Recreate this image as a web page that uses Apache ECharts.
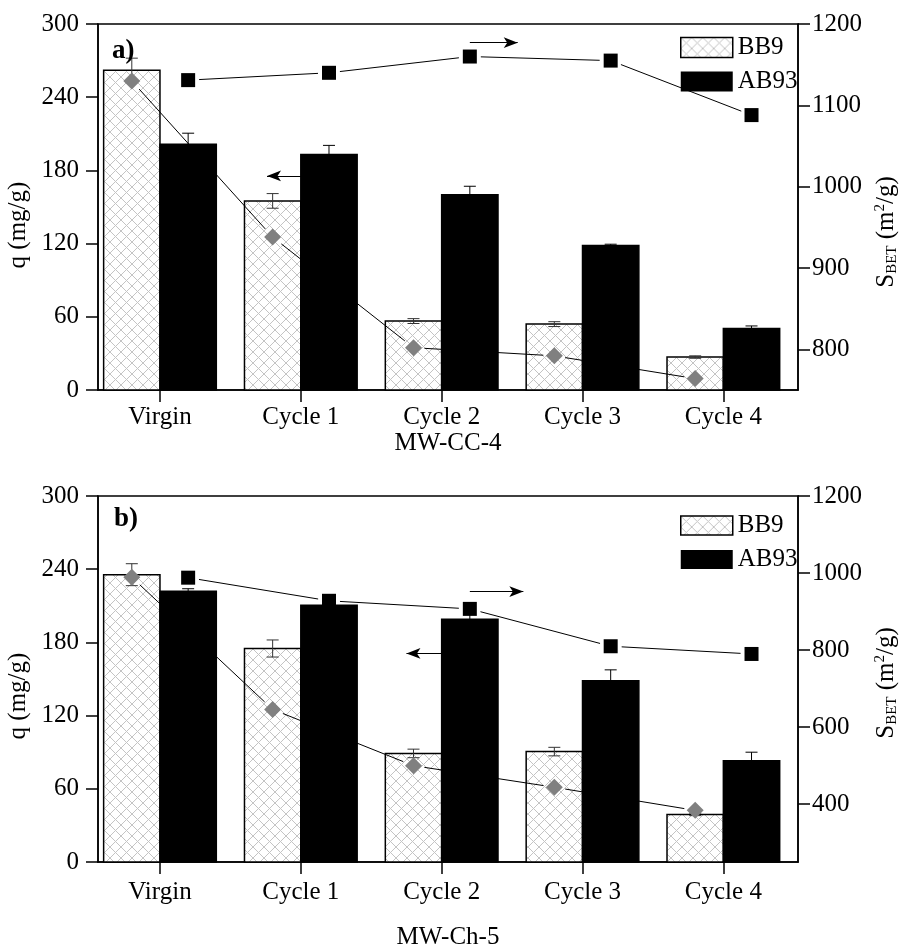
<!DOCTYPE html>
<html>
<head>
<meta charset="utf-8">
<script src="https://cdn.jsdelivr.net/npm/echarts@6/dist/echarts.min.js"></script>
<style>
  html, body { margin: 0; padding: 0; background: #fff; }
  #chart { width: 905px; height: 951px; }
</style>
</head>
<body>
<div id="chart"></div>
<script>
// categories
var cats = ['Virgin', 'Cycle 1', 'Cycle 2', 'Cycle 3', 'Cycle 4'];

// a) MW-CC-4
var qBB9A = [262, 155, 56.5, 54, 27];
var errBB9A = [10, 6, 2, 2, 1];
var qAB93A = [201.5, 193, 160, 118.5, 50.5];
var errAB93A = [9, 7.5, 7, 1, 2];
var sBB9A = [1130, 938, 802, 792, 764];
var sAB93A = [1131, 1140, 1160, 1155, 1088];

// b) MW-Ch-5
var qBB9B = [235.5, 175, 89, 90.5, 39];
var errBB9B = [9, 7, 3.5, 3.5, 1];
var qAB93B = [222, 210.5, 199, 148.5, 83];
var errAB93B = [2, 3, 4, 9, 7];
var sBB9B = [989, 646, 500, 444, 384];
var sAB93B = [988, 928, 907, 810, 790];

// tick labels
var qTicks = [0, 60, 120, 180, 240, 300];
var sTicksA = [800, 900, 1000, 1100, 1200];
var sTicksB = [400, 600, 800, 1000, 1200];

// arrows [x1, y1, x2, y2] in axis units
var arrowLeftA = [1.0, 175.5, 0.76, 175.5];
var arrowRightA = [2.2, 1177, 2.54, 1177];
var arrowLeftB = [2.0, 171, 1.75, 171];
var arrowRightB = [2.2, 952, 2.58, 952];

var FONT = 'Liberation Serif';

/* cross hatch pattern */
var hatch = document.createElement('canvas');
hatch.width = 11; hatch.height = 11;
var hc = hatch.getContext('2d');
hc.fillStyle = '#fff';
hc.fillRect(0, 0, 11, 11);
hc.strokeStyle = '#c4c4c4';
hc.lineWidth = 1;
hc.beginPath();
hc.moveTo(0, 0); hc.lineTo(11, 11);
hc.moveTo(11, 0); hc.lineTo(0, 11);
hc.stroke();
var hatchFill = { image: hatch, repeat: 'repeat' };

var barData = function(vals, errs){
    return vals.map(function(v, i){ return [i, v, errs[i]]; });
};
var pointData = function(vals, off){
    return vals.map(function(v, i){ return [i + off, v]; });
};
var segData = function(vals, off){
    var out = [];
    for (var i = 0; i < vals.length - 1; i++) {
        out.push([i + off, vals[i], i + 1 + off, vals[i + 1]]);
    }
    return out;
};

var barRender = function(side, fill, errColor){
    return function(params, api){
        var x = api.value(0), v = api.value(1), e = api.value(2);
        var top = api.coord([x, v]);
        var base = api.coord([x, 0]);
        var w = api.size([1, 0])[0] * 0.4;
        var cx = top[0] + side * w / 2;
        var x0 = side < 0 ? top[0] - w : top[0];
        var hi = api.coord([x, v + e]);
        var lo = api.coord([x, v - e]);
        var cap = 6;
        var es = { stroke: errColor, lineWidth: 1 };
        return {
            type: 'group',
            children: [
                { type: 'rect', shape: { x: x0, y: top[1], width: w, height: base[1] - top[1] },
                  style: { fill: fill, stroke: '#000', lineWidth: 1.5 } },
                { type: 'line', shape: { x1: cx, y1: hi[1], x2: cx, y2: lo[1] }, style: es },
                { type: 'line', shape: { x1: cx - cap, y1: hi[1], x2: cx + cap, y2: hi[1] }, style: es },
                { type: 'line', shape: { x1: cx - cap, y1: lo[1], x2: cx + cap, y2: lo[1] }, style: es }
            ]
        };
    };
};

var segRender = function(params, api){
    var p1 = api.coord([api.value(0), api.value(1)]);
    var p2 = api.coord([api.value(2), api.value(3)]);
    var dx = p2[0] - p1[0], dy = p2[1] - p1[1];
    var d = Math.sqrt(dx * dx + dy * dy), gap = 11;
    if (d <= 2 * gap) return null;
    var ux = dx / d, uy = dy / d;
    return {
        type: 'line',
        shape: { x1: p1[0] + ux * gap, y1: p1[1] + uy * gap, x2: p2[0] - ux * gap, y2: p2[1] - uy * gap },
        style: { stroke: '#000', lineWidth: 1 }
    };
};

var arrowLine = function(a){
    return {
        silent: true,
        symbol: ['none', 'arrow'],
        symbolSize: [8, 14],
        label: { show: false },
        lineStyle: { color: '#000', width: 1.2, type: 'solid' },
        emphasis: { disabled: true },
        data: [[{ coord: [a[0], a[1]] }, { coord: [a[2], a[3]] }]]
    };
};

var labelStyle = { color: '#000', fontFamily: FONT, fontSize: 25 };
var lineStyle = { color: '#000', width: 1.5 };
var plain = function(v){ return String(v); };

var xAxis = function(idx, name, margin, gap){
    return {
        type: 'value', gridIndex: idx, min: -0.44, max: 4.53,
        name: name, nameLocation: 'middle', nameGap: gap,
        nameTextStyle: labelStyle,
        splitLine: { show: false },
        axisLine: { onZero: false, lineStyle: lineStyle },
        axisTick: { show: true, inside: false, length: 12, lineStyle: lineStyle, customValues: [0, 1, 2, 3, 4] },
        axisLabel: Object.assign({ margin: margin, customValues: [0, 1, 2, 3, 4],
            formatter: function(v){ return cats[Math.round(v)]; } }, labelStyle)
    };
};

var qAxis = function(idx, pad){
    return {
        type: 'value', gridIndex: idx, position: 'left', min: 0, max: 300, interval: 60,
        name: 'q (mg/g)', nameLocation: 'middle', nameRotate: 90, nameGap: 56,
        nameTextStyle: Object.assign({ padding: [0, pad, 0, 0] }, labelStyle),
        splitLine: { show: false },
        axisLine: { show: true, onZero: false, lineStyle: lineStyle },
        axisTick: { show: true, inside: false, length: 12, lineStyle: lineStyle },
        axisLabel: Object.assign({ margin: 19, customValues: qTicks, formatter: plain }, labelStyle)
    };
};

var sAxis = function(idx, min, ticks, pad){
    return {
        type: 'value', gridIndex: idx, position: 'right', min: min, max: 1200,
        name: '{b|S}{sub|BET} (m{sup|2}/g)', nameLocation: 'middle', nameRotate: 90, nameGap: 70,
        nameTextStyle: Object.assign({
            padding: [0, pad, 0, 0],
            rich: {
                b: { fontFamily: FONT, fontSize: 25, color: '#000' },
                sub: { fontFamily: FONT, fontSize: 15, color: '#000', verticalAlign: 'bottom', padding: [12, 0, 0, 0] },
                sup: { fontFamily: FONT, fontSize: 15, color: '#000', verticalAlign: 'top', padding: [0, 0, 10, 0] }
            }
        }, labelStyle),
        splitLine: { show: false },
        axisLine: { show: true, onZero: false, lineStyle: lineStyle },
        axisTick: { show: true, inside: false, length: 12, lineStyle: lineStyle, customValues: ticks },
        axisLabel: Object.assign({ margin: 14, customValues: ticks, formatter: plain }, labelStyle)
    };
};

var panelSeries = function(g, qb, eb, qa, ea, sb, sa, arL, arR){
    var xi = g, yl = g * 2, yr = g * 2 + 1;
    return [
        { name: 'BB9', type: 'custom', xAxisIndex: xi, yAxisIndex: yl, z: 2,
          itemStyle: { color: hatchFill, borderColor: '#000' },
          renderItem: barRender(-1, hatchFill, '#333'), encode: { x: 0, y: 1 }, data: barData(qb, eb),
          markLine: arrowLine(arL) },
        { name: 'AB93', type: 'custom', xAxisIndex: xi, yAxisIndex: yl, z: 2,
          itemStyle: { color: '#000' },
          renderItem: barRender(1, '#000', '#000'), encode: { x: 0, y: 1 }, data: barData(qa, ea) },
        { name: 'sBB9line', type: 'custom', xAxisIndex: xi, yAxisIndex: yr, z: 3,
          renderItem: segRender, data: segData(sb, -0.2), silent: true },
        { name: 'sAB93line', type: 'custom', xAxisIndex: xi, yAxisIndex: yr, z: 3,
          renderItem: segRender, data: segData(sa, 0.2), silent: true },
        { name: 'sBB9', type: 'scatter', xAxisIndex: xi, yAxisIndex: yr, z: 4,
          symbol: 'diamond', symbolSize: 17, itemStyle: { color: '#808080', opacity: 1 }, data: pointData(sb, -0.2) },
        { name: 'sAB93', type: 'scatter', xAxisIndex: xi, yAxisIndex: yr, z: 4,
          symbol: 'rect', symbolSize: 14, itemStyle: { color: '#000', opacity: 1 }, data: pointData(sa, 0.2),
          markLine: arrowLine(arR) }
    ];
};

var legend = function(top, h){
    return {
        orient: 'vertical', left: 675, top: top, itemWidth: 52, itemHeight: h, itemGap: 9,
        selectedMode: false,
        textStyle: labelStyle,
        data: [
            { name: 'BB9', icon: 'rect', itemStyle: { color: hatchFill, borderColor: '#000', borderWidth: 1.5 } },
            { name: 'AB93', icon: 'rect', itemStyle: { color: '#000', borderWidth: 0 } }
        ]
    };
};

var gridBox = function(top){
    return { left: 98, top: top, width: 700, height: 366, outerBoundsMode: 'none', containLabel: false,
             show: true, borderColor: '#000', borderWidth: 1.5, backgroundColor: 'transparent' };
};

var chart = echarts.init(document.getElementById('chart'), null, { renderer: 'canvas' });
var option = {
    animation: false,
    backgroundColor: '#fff',
    title: [
        { text: 'a)', left: 107, top: 33, textStyle: { fontFamily: FONT, fontSize: 27, fontWeight: 'bold', color: '#000' } },
        { text: 'b)', left: 109, top: 501, textStyle: { fontFamily: FONT, fontSize: 27, fontWeight: 'bold', color: '#000' } }
    ],
    legend: [legend(30, 20), legend(508, 19)],
    grid: [gridBox(24), gridBox(496)],
    xAxis: [xAxis(0, 'MW-CC-4', 15, 32), xAxis(1, 'MW-Ch-5', 18, 63)],
    yAxis: [qAxis(0, 36), sAxis(0, 750, sTicksA, 50), qAxis(1, 34), sAxis(1, 250, sTicksB, 8)],
    series: [].concat(
        panelSeries(0, qBB9A, errBB9A, qAB93A, errAB93A, sBB9A, sAB93A, arrowLeftA, arrowRightA),
        panelSeries(1, qBB9B, errBB9B, qAB93B, errAB93B, sBB9B, sAB93B, arrowLeftB, arrowRightB)
    )
};
chart.setOption(option);
</script>
</body>
</html>
